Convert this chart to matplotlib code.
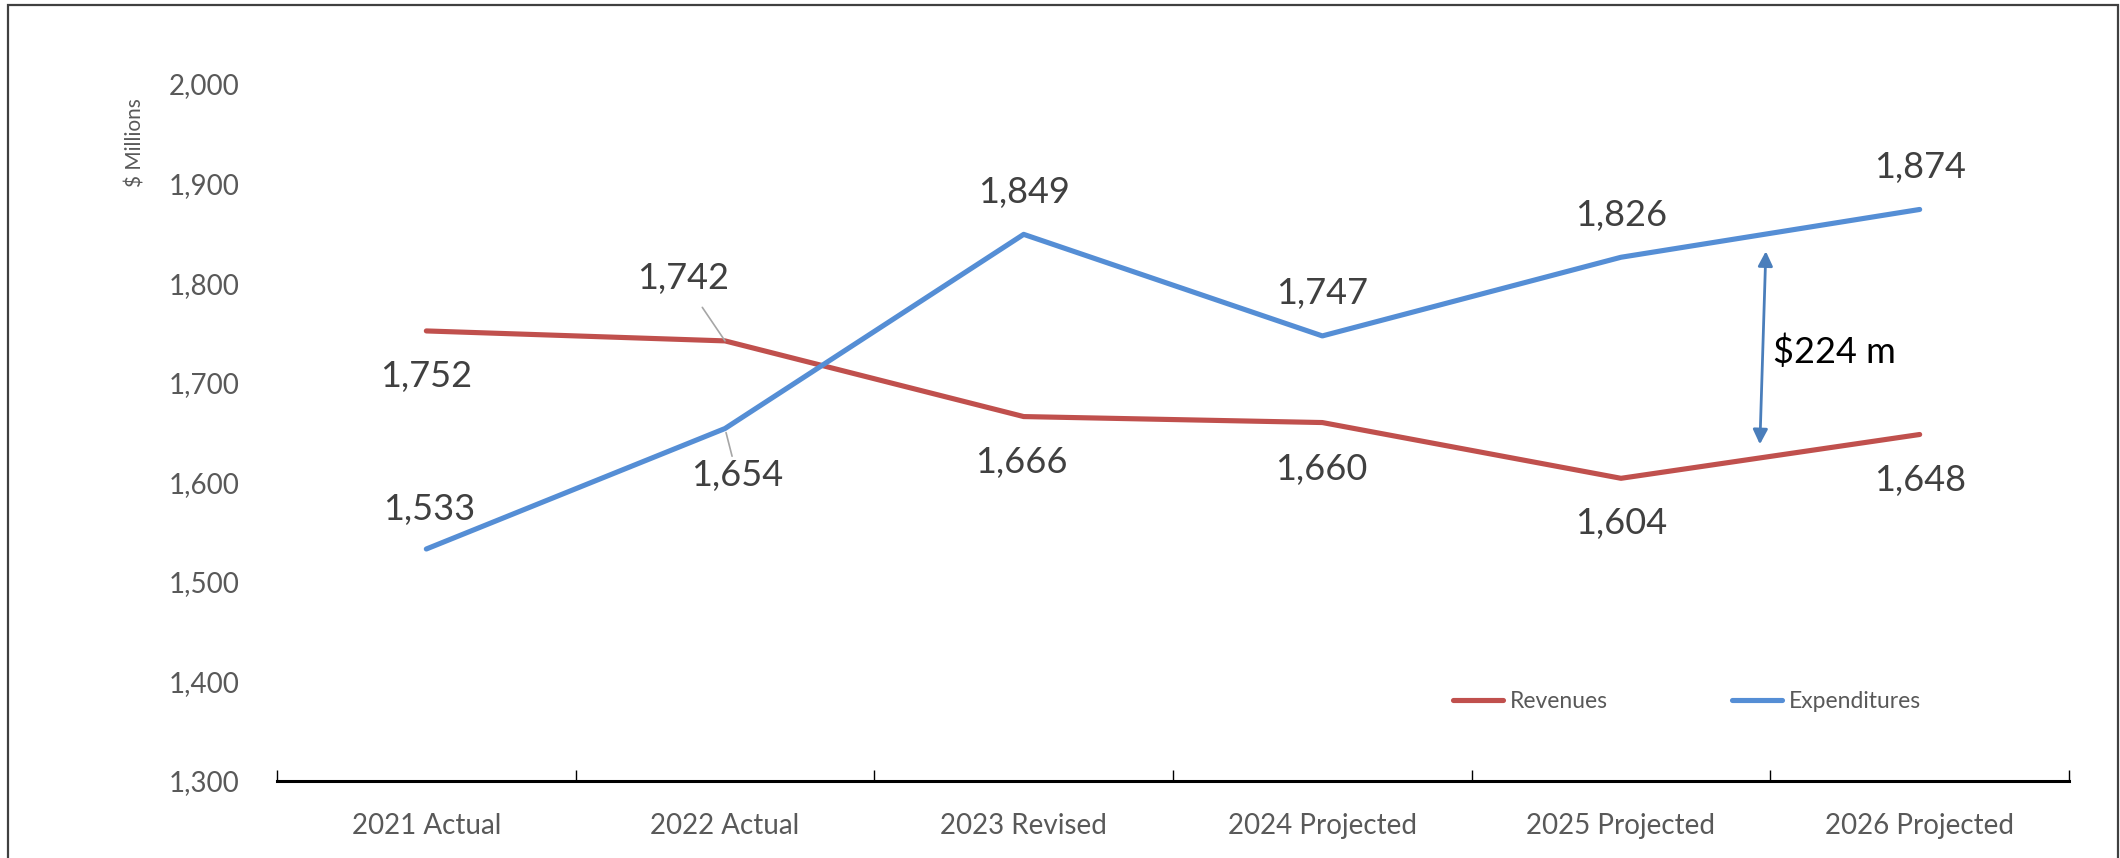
import numpy as np
import matplotlib
matplotlib.use("Agg")
import matplotlib.pyplot as plt
from matplotlib.patches import Rectangle

# --- DONNEES ---
categories = ["2021 Actual", "2022 Actual", "2023 Revised", "2024 Projected",
              "2025 Projected", "2026 Projected"]
revenues = [1752, 1742, 1666, 1660, 1604, 1648]
expenditures = [1533, 1654, 1849, 1747, 1826, 1874]
yticks = [1300, 1400, 1500, 1600, 1700, 1800, 1900, 2000]
gap_text = "$224 m"

# offsets of data labels (pixels)
rev_offsets = [(0, -46), (-42, 62), (-2, -46), (-1, -47), (0, -45), (0, -46)]
exp_offsets = [(3, 39), (12, -47), (0, 42), (0, 42), (0, 42), (0, 42)]

plt.rcParams['font.family'] = ['Lato', 'DejaVu Sans']

RED = "#C0504D"
BLUE = "#558ED5"
TXT = "#404040"
GREY = "#595959"

fig = plt.figure(figsize=(21.2, 8.58), dpi=100)
ax = fig.add_axes([277 / 2120, 1 - 781 / 858, (2069 - 277) / 2120, (781 - 84) / 858])

x = np.arange(len(categories))
ax.plot(x, revenues, color=RED, lw=3.7, solid_capstyle='round', label="Revenues")
ax.plot(x, expenditures, color=BLUE, lw=3.7, solid_capstyle='round', label="Expenditures")

ax.set_xlim(-0.5, len(categories) - 0.5)
ax.set_ylim(1300, 2000)
ax.set_yticks(yticks)
ax.set_yticklabels([f"{v:,}" for v in yticks])
ax.set_xticks(x)
ax.set_xticklabels(categories)
ax.set_xticks(np.arange(len(categories) + 1) - 0.5, minor=True)

for s in ["top", "right", "left"]:
    ax.spines[s].set_visible(False)
ax.spines["bottom"].set_linewidth(2.2)
ax.spines["bottom"].set_color("black")

ax.tick_params(axis='y', length=0, pad=27, labelsize=20, labelcolor=GREY)
ax.tick_params(axis='x', which='major', length=0, pad=23, labelsize=20, labelcolor=GREY)
ax.tick_params(axis='x', which='minor', direction='in', length=8, width=1, color="black")

# data labels
for i, v in enumerate(revenues):
    dx, dy = rev_offsets[i]
    props = None
    if i == 1:
        props = dict(arrowstyle='-', color="#A6A6A6", lw=1.2, shrinkA=8, shrinkB=0)
    ax.annotate(f"{v:,}", xy=(i, v), xytext=(dx, dy), textcoords='offset pixels',
                ha='center', va='center', fontsize=26, color=TXT, arrowprops=props)
for i, v in enumerate(expenditures):
    dx, dy = exp_offsets[i]
    props = None
    if i == 1:
        props = dict(arrowstyle='-', color="#A6A6A6", lw=1.2, shrinkA=22, shrinkB=3)
    ax.annotate(f"{v:,}", xy=(i, v), xytext=(dx, dy), textcoords='offset pixels',
                ha='center', va='center', fontsize=26, color=TXT, arrowprops=props)

# gap arrow between 2025 and 2026
xa = 4.48
top = np.interp(xa, x, expenditures) - 17
bot = np.interp(xa, x, revenues) + 13
ax.annotate("", xy=(xa - 0.015, bot), xytext=(xa + 0.005, top),
            arrowprops=dict(arrowstyle='<|-|>', color="#4A7EBB", lw=2, mutation_scale=22,
                            shrinkA=0, shrinkB=0))
ax.text(xa + 0.03, (top + bot) / 2 - 4, gap_text, fontsize=26, color="black",
        ha='left', va='center')

fig.text(135 / 2120, 1 - 143 / 858, "$ Millions", rotation=90, fontsize=15,
         color=GREY, ha='center', va='center')

ax.legend(loc='center left', bbox_to_anchor=(1453 / 2120, 1 - 702 / 858),
          bbox_transform=fig.transFigure, ncol=2, frameon=False, fontsize=16.5,
          handlelength=2.18, handletextpad=0.3, columnspacing=5.4, borderpad=0,
          borderaxespad=0, labelcolor=GREY)

fig.patches.append(Rectangle((8 / 2120, -0.01), (2118 - 8) / 2120, 1 - 5 / 858 + 0.01,
                             transform=fig.transFigure, fill=False, edgecolor="#404040",
                             lw=1.6))

fig.savefig("out.png", dpi=100)
